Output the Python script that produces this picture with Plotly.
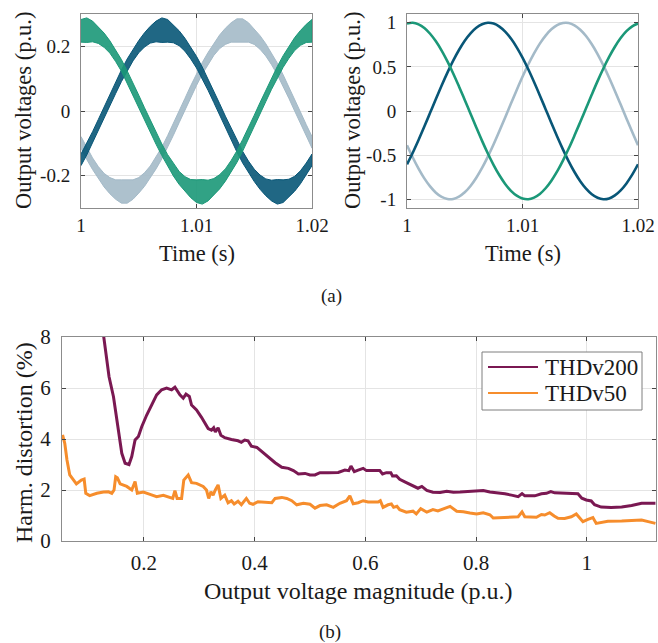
import plotly.graph_objects as go

# ---------------- data ----------------
# time stamps of the phase voltage records (s)
t = [1.0000, 1.0005, 1.0010, 1.0015, 1.0020, 1.0025, 1.0030, 1.0035, 1.0040, 1.0045,
     1.0050, 1.0055, 1.0060, 1.0065, 1.0070, 1.0075, 1.0080, 1.0085, 1.0090, 1.0095,
     1.0100, 1.0105, 1.0110, 1.0115, 1.0120, 1.0125, 1.0130, 1.0135, 1.0140, 1.0145,
     1.0150, 1.0155, 1.0160, 1.0165, 1.0170, 1.0175, 1.0180, 1.0185, 1.0190, 1.0195,
     1.0200]

# low modulation index: phase voltages (p.u., mean of the switching band)
va_low = [0.248, 0.250, 0.246, 0.235, 0.219, 0.198, 0.171, 0.141, 0.106, 0.070,
          0.031, -0.008, -0.047, -0.085, -0.120, -0.153, -0.182, -0.207, -0.226, -0.240,
          -0.248, -0.250, -0.246, -0.235, -0.219, -0.198, -0.171, -0.141, -0.106, -0.070,
          -0.031, 0.008, 0.047, 0.085, 0.120, 0.153, 0.182, 0.207, 0.226, 0.240, 0.248]
vb_low = [-0.151, -0.118, -0.082, -0.044, -0.005, 0.034, 0.072, 0.109, 0.143, 0.173,
          0.199, 0.220, 0.236, 0.246, 0.250, 0.248, 0.239, 0.225, 0.205, 0.180,
          0.151, 0.118, 0.082, 0.044, 0.005, -0.034, -0.072, -0.109, -0.143, -0.173,
          -0.199, -0.220, -0.236, -0.246, -0.250, -0.248, -0.239, -0.225, -0.205, -0.180,
          -0.151]
vc_low = [-0.097, -0.132, -0.163, -0.191, -0.214, -0.231, -0.243, -0.249, -0.249, -0.243,
          -0.230, -0.212, -0.189, -0.161, -0.130, -0.094, -0.057, -0.018, 0.021, 0.060,
          0.097, 0.132, 0.163, 0.191, 0.214, 0.231, 0.243, 0.249, 0.249, 0.243,
          0.230, 0.212, 0.189, 0.161, 0.130, 0.094, 0.057, 0.018, -0.021, -0.060,
          -0.097]
# half height of the switching ripple band (p.u.)
ra_low = [0.035, 0.038, 0.032, 0.026, 0.022, 0.019, 0.018, 0.018, 0.018, 0.018,
          0.018, 0.018, 0.018, 0.018, 0.018, 0.018, 0.019, 0.020, 0.023, 0.028,
          0.035, 0.038, 0.032, 0.026, 0.022, 0.019, 0.018, 0.018, 0.018, 0.018,
          0.018, 0.018, 0.018, 0.018, 0.018, 0.018, 0.019, 0.020, 0.023, 0.028,
          0.035]
rb_low = [0.018, 0.018, 0.018, 0.018, 0.018, 0.018, 0.018, 0.018, 0.018, 0.018,
          0.019, 0.022, 0.026, 0.032, 0.038, 0.035, 0.028, 0.023, 0.020, 0.019,
          0.018, 0.018, 0.018, 0.018, 0.018, 0.018, 0.018, 0.018, 0.018, 0.018,
          0.019, 0.022, 0.026, 0.032, 0.038, 0.035, 0.028, 0.023, 0.020, 0.019,
          0.018]
rc_low = [0.018, 0.018, 0.018, 0.019, 0.021, 0.025, 0.030, 0.036, 0.036, 0.030,
          0.024, 0.021, 0.019, 0.018, 0.018, 0.018, 0.018, 0.018, 0.018, 0.018,
          0.018, 0.018, 0.018, 0.019, 0.021, 0.025, 0.030, 0.036, 0.036, 0.030,
          0.024, 0.021, 0.019, 0.018, 0.018, 0.018, 0.018, 0.018, 0.018, 0.018,
          0.018]

# nominal modulation index: phase voltages (p.u.)
va_nom = [0.992, 1.000, 0.982, 0.941, 0.876, 0.790, 0.685, 0.562, 0.426, 0.279,
          0.125, -0.031, -0.187, -0.339, -0.482, -0.613, -0.729, -0.827, -0.905, -0.960,
          -0.992, -1.000, -0.982, -0.941, -0.876, -0.790, -0.685, -0.562, -0.426, -0.279,
          -0.125, 0.031, 0.187, 0.339, 0.482, 0.613, 0.729, 0.827, 0.905, 0.960, 0.992]
vb_nom = [-0.605, -0.473, -0.329, -0.177, -0.021, 0.136, 0.289, 0.435, 0.571, 0.692,
          0.797, 0.881, 0.944, 0.984, 1.000, 0.991, 0.957, 0.900, 0.821, 0.722,
          0.605, 0.473, 0.329, 0.177, 0.021, -0.136, -0.289, -0.435, -0.571, -0.692,
          -0.797, -0.881, -0.944, -0.984, -1.000, -0.991, -0.957, -0.900, -0.821, -0.722,
          -0.605]
vc_nom = [-0.388, -0.527, -0.653, -0.764, -0.855, -0.926, -0.974, -0.997, -0.997, -0.971,
          -0.922, -0.850, -0.757, -0.646, -0.518, -0.378, -0.228, -0.073, 0.084, 0.239,
          0.388, 0.527, 0.653, 0.764, 0.855, 0.926, 0.974, 0.997, 0.997, 0.971,
          0.922, 0.850, 0.757, 0.646, 0.518, 0.378, 0.228, 0.073, -0.084, -0.239,
          -0.388]

# harmonic distortion versus output voltage magnitude
m_200 = [0.125, 0.137, 0.145, 0.154, 0.160, 0.166, 0.173, 0.178, 0.184, 0.190,
         0.196, 0.205, 0.214, 0.223, 0.232, 0.241, 0.250, 0.256, 0.265, 0.271,
         0.276, 0.282, 0.286, 0.295, 0.304, 0.310, 0.316, 0.322, 0.326, 0.329,
         0.334, 0.339, 0.346, 0.358, 0.370, 0.376, 0.382, 0.388, 0.394, 0.404,
         0.413, 0.424, 0.437, 0.449, 0.461, 0.470, 0.479, 0.491, 0.500, 0.509,
         0.518, 0.533, 0.551, 0.563, 0.570, 0.574, 0.580, 0.587, 0.596, 0.602,
         0.626, 0.631, 0.638, 0.646, 0.649, 0.656, 0.662, 0.674, 0.686, 0.695,
         0.702, 0.711, 0.722, 0.735, 0.747, 0.759, 0.771, 0.789, 0.813, 0.825,
         0.834, 0.852, 0.864, 0.876, 0.883, 0.888, 0.906, 0.918, 0.927, 0.935,
         0.942, 0.966, 0.984, 0.991, 0.999, 1.008, 1.014, 1.026, 1.044, 1.063,
         1.081, 1.099, 1.124]
thd_200 = [8.40, 6.44, 5.66, 4.35, 3.44, 3.05, 3.00, 3.31, 3.96, 4.10,
           4.48, 4.94, 5.33, 5.73, 5.93, 6.00, 5.93, 6.03, 5.73, 5.60,
           5.76, 5.67, 5.33, 5.14, 4.85, 4.62, 4.41, 4.35, 4.44, 4.28,
           4.44, 4.15, 4.05, 3.98, 3.93, 3.87, 3.96, 3.93, 3.72, 3.67,
           3.50, 3.28, 3.07, 2.89, 2.85, 2.76, 2.63, 2.65, 2.59, 2.59,
           2.68, 2.68, 2.69, 2.78, 2.76, 2.94, 2.72, 2.78, 2.85, 2.76,
           2.76, 2.63, 2.68, 2.68, 2.55, 2.56, 2.42, 2.29, 2.17, 2.07,
           2.14, 1.98, 1.91, 1.90, 1.95, 1.91, 1.92, 1.95, 1.98, 1.92,
           1.90, 1.85, 1.80, 1.74, 1.86, 1.77, 1.77, 1.85, 1.87, 1.94,
           1.89, 1.87, 1.85, 1.68, 1.61, 1.57, 1.42, 1.33, 1.31, 1.33,
           1.39, 1.48, 1.48]

m_50 = [0.053, 0.057, 0.061, 0.066, 0.078, 0.087, 0.092, 0.095, 0.102, 0.115,
        0.127, 0.136, 0.142, 0.146, 0.149, 0.152, 0.157, 0.169, 0.178, 0.184,
        0.188, 0.199, 0.211, 0.223, 0.235, 0.247, 0.252, 0.256, 0.260, 0.268,
        0.272, 0.280, 0.286, 0.295, 0.307, 0.313, 0.317, 0.321, 0.325, 0.329,
        0.334, 0.339, 0.346, 0.352, 0.358, 0.363, 0.370, 0.376, 0.385, 0.391,
        0.397, 0.406, 0.419, 0.431, 0.437, 0.449, 0.458, 0.467, 0.476, 0.488,
        0.500, 0.509, 0.518, 0.530, 0.542, 0.554, 0.566, 0.572, 0.578, 0.587,
        0.596, 0.605, 0.623, 0.627, 0.632, 0.641, 0.647, 0.651, 0.657, 0.662,
        0.674, 0.686, 0.692, 0.700, 0.711, 0.722, 0.731, 0.740, 0.753, 0.765,
        0.777, 0.789, 0.801, 0.813, 0.825, 0.831, 0.858, 0.876, 0.883, 0.888,
        0.909, 0.918, 0.924, 0.933, 0.941, 0.948, 0.960, 0.972, 0.981, 0.987,
        0.993, 1.002, 1.011, 1.017, 1.026, 1.038, 1.063, 1.099, 1.111, 1.124]
thd_50 = [4.16, 3.83, 3.18, 2.59, 2.24, 2.39, 2.43, 1.87, 1.78, 1.87,
          1.92, 1.93, 1.87, 2.00, 2.52, 2.48, 2.24, 2.14, 2.00, 2.33,
          1.87, 1.92, 1.83, 1.74, 1.79, 1.70, 1.67, 1.97, 1.67, 1.67,
          2.39, 2.59, 2.29, 2.26, 2.14, 2.00, 1.67, 1.93, 1.80, 2.00,
          2.20, 1.67, 1.80, 1.50, 1.58, 1.45, 1.56, 1.42, 1.67, 1.48,
          1.44, 1.54, 1.52, 1.50, 1.67, 1.71, 1.67, 1.58, 1.42, 1.48,
          1.44, 1.29, 1.39, 1.42, 1.32, 1.48, 1.58, 1.77, 1.46, 1.50,
          1.58, 1.53, 1.53, 1.58, 1.32, 1.42, 1.45, 1.32, 1.36, 1.23,
          1.13, 1.17, 1.06, 1.27, 1.13, 1.23, 1.18, 1.25, 1.36, 1.17,
          1.15, 1.10, 1.06, 1.11, 1.03, 0.90, 0.92, 0.95, 1.14, 0.95,
          0.93, 1.04, 1.02, 1.11, 0.98, 0.89, 0.88, 0.95, 1.06, 0.93,
          0.76, 0.85, 0.92, 0.69, 0.72, 0.77, 0.78, 0.82, 0.76, 0.69]

series_names = ["THDv200", "THDv50"]

t_ticks = [1.0, 1.01, 1.02]
t_ticktext = ["1", "1.01", "1.02"]
low_ticks = [-0.2, 0.0, 0.2]
low_ticktext = ["-0.2", "0", "0.2"]
nom_ticks = [-1.0, -0.5, 0.0, 0.5, 1.0]
nom_ticktext = ["-1", "-0.5", "0", "0.5", "1"]
mag_ticks = [0.2, 0.4, 0.6, 0.8, 1.0]
mag_ticktext = ["0.2", "0.4", "0.6", "0.8", "1"]
thd_ticks = [0, 2, 4, 6, 8]
thd_ticktext = ["0", "2", "4", "6", "8"]

# ---------------- styling ----------------
FONT = "Liberation Serif"
TXT = "#1a1a1a"
GREEN = "#1b9878"
BLUE = "#085677"
LIGHT = "#a4bac8"
PURPLE = "#7a1852"
ORANGE = "#f68d2c"
SERIES_COLORS = [PURPLE, ORANGE]

W, H = 658, 643


def dom_x(a, b):
    return [a / W, b / W]


def dom_y(top, bottom):
    return [1 - bottom / H, 1 - top / H]


def rgba(hex_color, alpha):
    h = hex_color.lstrip("#")
    r, g, b = int(h[0:2], 16), int(h[2:4], 16), int(h[4:6], 16)
    return f"rgba({r},{g},{b},{alpha})"


fig = go.Figure()


def band(xax, yax, centre, ripple, color):
    upper = [c + r for c, r in zip(centre, ripple)]
    lower = [c - r for c, r in zip(centre, ripple)]
    fig.add_trace(go.Scatter(
        x=t + t[::-1], y=upper + lower[::-1], xaxis=xax, yaxis=yax,
        mode="lines", fill="toself", fillcolor=rgba(color, 0.9),
        line=dict(color=color, width=1), showlegend=False, hoverinfo="skip"))


# switching-band voltages, low modulation index
band("x", "y", vc_low, rc_low, LIGHT)
band("x", "y", vb_low, rb_low, BLUE)
band("x", "y", va_low, ra_low, GREEN)

# nominal modulation index
for v, c in [(vc_nom, LIGHT), (vb_nom, BLUE), (va_nom, GREEN)]:
    fig.add_trace(go.Scatter(x=t, y=v, xaxis="x2", yaxis="y2", mode="lines",
                             line=dict(color=c, width=2.6, shape="spline"),
                             showlegend=False, hoverinfo="skip"))

# distortion curves
fig.add_trace(go.Scatter(x=m_200, y=thd_200, xaxis="x3", yaxis="y3", mode="lines",
                         name=series_names[0], showlegend=False,
                         line=dict(color=PURPLE, width=3)))
fig.add_trace(go.Scatter(x=m_50, y=thd_50, xaxis="x3", yaxis="y3", mode="lines",
                         name=series_names[1], showlegend=False,
                         line=dict(color=ORANGE, width=3)))


def axis_style(domain, rng, tickvals, ticktext, size, anchor, standoff):
    return dict(domain=domain, range=rng, anchor=anchor, automargin=False,
                tickmode="array", tickvals=tickvals, ticktext=ticktext,
                ticks="inside", ticklen=4, tickwidth=1, tickcolor="#444444",
                showline=True, linecolor="#8c8c8c", linewidth=1, mirror="ticks",
                showgrid=True, gridcolor="#e4e4e4", gridwidth=1, zeroline=False,
                tickfont=dict(family=FONT, size=size, color=TXT),
                ticklabelstandoff=standoff, fixedrange=True)


top_y = dom_y(14, 208)
layout = dict(
    width=W, height=H, margin=dict(l=0, r=0, t=0, b=0, autoexpand=False),
    paper_bgcolor="white", plot_bgcolor="white",
    font=dict(family=FONT, color=TXT),
    showlegend=False,
    xaxis=axis_style(dom_x(81, 312), [1.0, 1.02], t_ticks, t_ticktext, 19, "y", 0),
    yaxis=axis_style(top_y, [-0.3, 0.3], low_ticks, low_ticktext, 19, "x", 6),
    xaxis2=axis_style(dom_x(407, 638), [1.0, 1.02], t_ticks, t_ticktext, 19, "y2", 0),
    yaxis2=axis_style(top_y, [-1.1, 1.1], nom_ticks, nom_ticktext, 19, "x2", 6),
    xaxis3=axis_style(dom_x(62, 656), [0.052, 1.125], mag_ticks, mag_ticktext, 21, "y3", 3),
    yaxis3=axis_style(dom_y(337, 541), [0, 8], thd_ticks, thd_ticktext, 21, "x3", 6),
)


def label(text, x, y, size, angle=0, anchor="center"):
    return dict(text=text, x=x / W, y=1 - y / H, xref="paper", yref="paper",
                xanchor=anchor, yanchor="middle", showarrow=False,
                textangle=angle, font=dict(family=FONT, size=size, color=TXT))


annotations = [
    label("Time (s)", 196.5, 254, 22.5),
    label("Output voltages (p.u.)", 23, 111, 22.5, -90),
    label("Time (s)", 522.5, 254, 22.5),
    label("Output voltages (p.u.)", 352, 111, 22.5, -90),
    label("(a)", 331, 296, 19),
    label("Output voltage magnitude (p.u.)", 358.5, 591, 24),
    label("Harm. distortion (%)", 24, 443, 24, -90),
    label("(b)", 330, 632, 19),
]

# legend box for the distortion curves
shapes = [dict(type="rect", xref="paper", yref="paper",
               x0=482 / W, x1=642 / W, y0=1 - 410 / H, y1=1 - 352 / H,
               line=dict(color="#7f7f7f", width=1), fillcolor="white", layer="above")]
for i, (name, col) in enumerate(zip(series_names, SERIES_COLORS)):
    row_y = 367 + 26 * i
    shapes.append(dict(type="line", xref="paper", yref="paper",
                       x0=488 / W, x1=538 / W, y0=1 - row_y / H, y1=1 - row_y / H,
                       line=dict(color=col, width=2.2), layer="above"))
    annotations.append(label(name, 543, row_y, 23, anchor="left"))

layout["annotations"] = annotations
layout["shapes"] = shapes

fig.update_layout(**layout)
fig.write_html("out.html")
